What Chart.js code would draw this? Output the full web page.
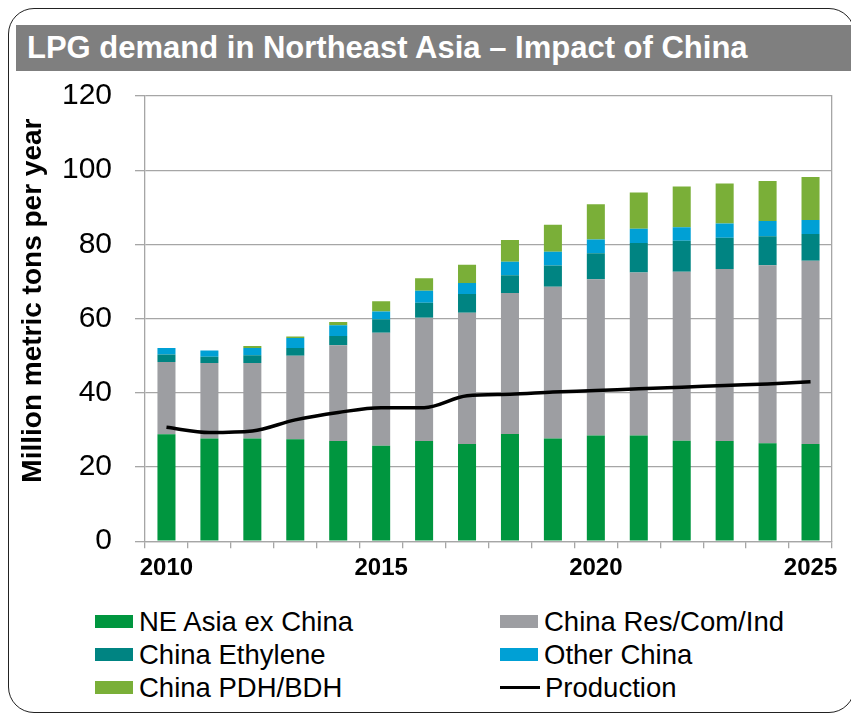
<!DOCTYPE html>
<html>
<head>
<meta charset="utf-8">
<script src="https://cdn.jsdelivr.net/npm/chart.js@4.4.1/dist/chart.umd.min.js"></script>
<style>
  body { margin: 0; width: 851px; height: 715px; overflow: hidden; background: #fff;
         font-family: "Liberation Sans", Arial, sans-serif; }
  #frame { position: absolute; left: 8px; top: 8px; width: 845px; height: 703px;
           border: 1.5px solid #222; border-radius: 26px; }
  #title { position: absolute; left: 16px; top: 25px; width: 835px; height: 46px;
           background: #7f7f7f; color: #fff; font-weight: bold; font-size: 31px;
           line-height: 46px; padding-left: 11px; box-sizing: border-box; white-space: nowrap; }
  #wrap { position: absolute; left: 0; top: 55px; }
  #legend { position: absolute; left: 95px; top: 605px; width: 740px;
            display: grid; grid-template-columns: 405px 335px; grid-auto-rows: 33px; }
  .item { display: flex; align-items: center; font-size: 27.5px; color: #000; white-space: nowrap; }
  .swatch { width: 38px; height: 13px; margin-right: 6px; }
  .stroke { width: 40px; height: 3px; margin-right: 5px; background: #000; }
</style>
</head>
<body>
<div id="frame"></div>
<div id="title">LPG demand in Northeast Asia – Impact of China</div>
<div id="wrap"><canvas id="chart" width="851" height="549"></canvas></div>
<div id="legend"></div>
<script>
var years = [2010, 2011, 2012, 2013, 2014, 2015, 2016, 2017, 2018, 2019, 2020, 2021, 2022, 2023, 2024, 2025];

// million metric tons per year, stacked bottom to top
var neAsiaExChina = [28.8, 27.7, 27.7, 27.5, 27.0, 25.7, 27.0, 26.2, 28.9, 27.7, 28.5, 28.5, 27.1, 27.0, 26.4, 26.2];
var chinaResComInd = [19.5, 20.3, 20.3, 22.5, 25.8, 30.5, 33.2, 35.4, 38.0, 40.9, 42.1, 43.9, 45.5, 46.4, 48.0, 49.4];
var chinaEthylene = [2.0, 1.7, 2.1, 2.1, 2.5, 3.6, 4.1, 5.0, 4.8, 5.7, 7.0, 8.0, 8.4, 8.4, 7.8, 7.2];
var otherChina = [1.8, 1.7, 2.0, 2.7, 2.9, 2.1, 3.2, 3.0, 3.6, 3.7, 3.7, 3.8, 3.6, 3.8, 4.1, 3.8];
var chinaPdhBdh = [0, 0, 0.5, 0.4, 0.9, 2.8, 3.4, 4.9, 5.9, 7.3, 9.5, 9.8, 11.0, 10.8, 10.8, 11.6];
var production = [30.7, 29.3, 29.7, 32.7, 34.7, 36.0, 36.0, 39.2, 39.6, 40.2, 40.6, 41.1, 41.5, 42.0, 42.4, 43.0];

var yTicks = [0, 20, 40, 60, 80, 100, 120];
var yTitle = 'Million metric tons per year';

var GRID = '#a6a6a6';

function barSet(label, data, color) {
	return {
		label: label,
		data: data,
		backgroundColor: color,
		stack: 'demand',
		order: 1,
		categoryPercentage: 1,
		barPercentage: 0.42
	};
}

// y axis title sits a bit above the middle of the plot, so it is drawn by hand
var yTitlePlugin = {
	id: 'yTitle',
	afterDraw: function(chart) {
		var ctx = chart.ctx;
		var area = chart.chartArea;
		ctx.save();
		ctx.translate(33, (area.top + area.bottom) / 2 - 18);
		ctx.rotate(-Math.PI / 2);
		ctx.font = 'bold 28px "Liberation Sans", Arial, sans-serif';
		ctx.fillStyle = '#000';
		ctx.textAlign = 'center';
		ctx.textBaseline = 'middle';
		ctx.fillText(yTitle, 0, 0);
		ctx.restore();
	}
};

var chart = new Chart(document.getElementById('chart'), {
	type: 'bar',
	data: {
		labels: years,
		datasets: [
			barSet('NE Asia ex China', neAsiaExChina, '#00963f'),
			barSet('China Res/Com/Ind', chinaResComInd, '#9d9ea2'),
			barSet('China Ethylene', chinaEthylene, '#008482'),
			barSet('Other China', otherChina, '#00a0d5'),
			barSet('China PDH/BDH', chinaPdhBdh, '#7aaf38'),
			{
				type: 'line',
				label: 'Production',
				data: production,
				stack: 'production',
				order: 0,
				borderColor: '#000',
				borderWidth: 3.5,
				pointRadius: 0,
				cubicInterpolationMode: 'monotone',
				fill: false
			}
		]
	},
	plugins: [yTitlePlugin],
	options: {
		responsive: false,
		animation: false,
		devicePixelRatio: 1,
		layout: { padding: { left: 17, right: 19, top: 21, bottom: 15 } },
		plugins: {
			legend: { display: false },
			tooltip: { enabled: false }
		},
		scales: {
			x: {
				stacked: true,
				grid: { offset: true, drawOnChartArea: false, tickLength: 7, color: GRID, lineWidth: 1.3 },
				border: { color: GRID, width: 1.3 },
				ticks: {
					autoSkip: false,
					maxRotation: 0,
					padding: 6,
					color: '#000',
					font: { size: 24, weight: 'bold' },
					callback: function(v, i) {
						return years[i] % 5 === 0 ? String(years[i]) : '';
					}
				}
			},
			y: {
				stacked: true,
				min: 0,
				max: 120,
				afterBuildTicks: function(scale) {
					scale.ticks = yTicks.map(function(v) { return { value: v }; });
				},
				afterFit: function(scale) { scale.width = 128; },
				grid: { color: GRID, lineWidth: 1.3, tickLength: 10 },
				border: { color: GRID, width: 1.3 },
				ticks: { padding: 23, color: '#000', font: { size: 30 } }
			},
			edge: {
				position: 'right',
				min: 0,
				max: 120,
				afterFit: function(scale) { scale.width = 0; },
				grid: { display: false, drawTicks: false },
				border: { display: true, color: GRID, width: 1.3 },
				ticks: { display: false }
			}
		}
	}
});

// two-column legend built from the chart's own datasets
var legend = document.getElementById('legend');
chart.data.datasets.forEach(function(ds) {
	var item = document.createElement('div');
	item.className = 'item';
	var mark = document.createElement('span');
	if (ds.type === 'line') {
		mark.className = 'stroke';
	} else {
		mark.className = 'swatch';
		mark.style.background = ds.backgroundColor;
	}
	item.appendChild(mark);
	item.appendChild(document.createTextNode(ds.label));
	legend.appendChild(item);
});
</script>
</body>
</html>
